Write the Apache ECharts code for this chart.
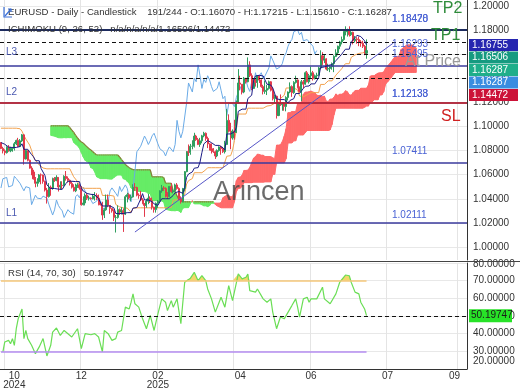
<!DOCTYPE html>
<html><head><meta charset="utf-8">
<script src="https://cdn.jsdelivr.net/npm/echarts/dist/echarts.min.js"></script>
<style>html,body{margin:0;padding:0;background:#fff}#c{width:520px;height:390px}</style>
</head><body><div id="c"></div>
<script>
// ---- data: daily candles [open, close, low, high] ----
const candles = [
[1.0865,1.0817,1.0811,1.0870],[1.0817,1.0797,1.0776,1.0831],[1.0797,1.0782,1.0761,1.0810],[1.0782,1.0828,1.0775,1.0835],
[1.0828,1.0797,1.0790,1.0845],[1.0797,1.0815,1.0786,1.0830],[1.0815,1.0817,1.0790,1.0830],[1.0817,1.0856,1.0800,1.0870],
[1.0856,1.0884,1.0845,1.0890],[1.0884,1.0833,1.0830,1.0905],[1.0833,1.0880,1.0830,1.0895],[1.0880,1.0930,1.0870,1.0937],
[1.0930,1.0730,1.0683,1.0935],[1.0730,1.0800,1.0725,1.0805],[1.0800,1.0719,1.0710,1.0800],[1.0719,1.0654,1.0650,1.0725],
[1.0654,1.0622,1.0595,1.0670],[1.0622,1.0565,1.0560,1.0640],[1.0565,1.0528,1.0495,1.0580],[1.0528,1.0540,1.0500,1.0570],
[1.0540,1.0598,1.0525,1.0605],[1.0598,1.0597,1.0520,1.0610],[1.0597,1.0544,1.0525,1.0600],[1.0544,1.0472,1.0460,1.0550],
[1.0472,1.0418,1.0360,1.0490],[1.0418,1.0495,1.0410,1.0530],[1.0495,1.0489,1.0425,1.0510],[1.0489,1.0566,1.0475,1.0575],
[1.0566,1.0553,1.0540,1.0580],[1.0553,1.0577,1.0545,1.0595],[1.0577,1.0498,1.0460,1.0580],[1.0498,1.0512,1.0475,1.0545],
[1.0512,1.0510,1.0480,1.0545],[1.0510,1.0586,1.0500,1.0595],[1.0586,1.0568,1.0550,1.0630],[1.0568,1.0553,1.0535,1.0585],
[1.0553,1.0527,1.0510,1.0560],[1.0527,1.0496,1.0485,1.0545],[1.0496,1.0466,1.0460,1.0520],[1.0466,1.0500,1.0455,1.0525],
[1.0500,1.0515,1.0490,1.0530],[1.0515,1.0490,1.0475,1.0525],[1.0490,1.0351,1.0343,1.0505],[1.0351,1.0365,1.0345,1.0420],
[1.0365,1.0430,1.0345,1.0445],[1.0430,1.0405,1.0390,1.0445],[1.0405,1.0405,1.0385,1.0425],[1.0405,1.0400,1.0395,1.0412],
[1.0400,1.0422,1.0395,1.0440],[1.0422,1.0427,1.0385,1.0455],[1.0427,1.0405,1.0390,1.0445],[1.0405,1.0355,1.0345,1.0435],
[1.0355,1.0350,1.0345,1.0365],[1.0350,1.0265,1.0225,1.0375],[1.0265,1.0308,1.0240,1.0320],[1.0308,1.0390,1.0300,1.0435],
[1.0390,1.0345,1.0330,1.0435],[1.0345,1.0320,1.0275,1.0345],[1.0320,1.0300,1.0285,1.0320],[1.0300,1.0245,1.0215,1.0312],
[1.0245,1.0245,1.0120,1.0265],[1.0245,1.0310,1.0235,1.0345],[1.0310,1.0290,1.0265,1.0320],[1.0290,1.0300,1.0270,1.0330],
[1.0300,1.0272,1.0125,1.0320],[1.0272,1.0417,1.0265,1.0430],[1.0417,1.0434,1.0370,1.0450],[1.0434,1.0408,1.0395,1.0445],
[1.0408,1.0415,1.0380,1.0435],[1.0415,1.0495,1.0410,1.0520],[1.0495,1.0493,1.0465,1.0530],[1.0493,1.0430,1.0420,1.0500],
[1.0430,1.0425,1.0400,1.0445],[1.0425,1.0390,1.0380,1.0465],[1.0390,1.0360,1.0355,1.0405],[1.0360,1.0345,1.0250,1.0365],
[1.0345,1.0380,1.0325,1.0400],[1.0380,1.0405,1.0355,1.0440],[1.0405,1.0383,1.0365,1.0420],[1.0383,1.0330,1.0310,1.0410],
[1.0330,1.0310,1.0285,1.0335],[1.0310,1.0362,1.0285,1.0370],[1.0362,1.0380,1.0325,1.0390],[1.0380,1.0465,1.0370,1.0470],
[1.0465,1.0490,1.0450,1.0515],[1.0490,1.0485,1.0465,1.0505],[1.0485,1.0445,1.0410,1.0495],[1.0445,1.0420,1.0400,1.0455],
[1.0420,1.0502,1.0410,1.0505],[1.0502,1.0460,1.0450,1.0530],[1.0460,1.0465,1.0445,1.0480],[1.0465,1.0515,1.0455,1.0525],
[1.0515,1.0485,1.0475,1.0530],[1.0485,1.0400,1.0390,1.0495],[1.0400,1.0375,1.0360,1.0420],[1.0375,1.0485,1.0370,1.0490],
[1.0485,1.0625,1.0460,1.0630],[1.0625,1.0790,1.0620,1.0795],[1.0790,1.0785,1.0755,1.0850],[1.0785,1.0835,1.0765,1.0855],
[1.0835,1.0835,1.0810,1.0885],[1.0835,1.0920,1.0825,1.0947],[1.0920,1.0890,1.0880,1.0930],[1.0890,1.0850,1.0845,1.0905],
[1.0850,1.0880,1.0830,1.0905],[1.0880,1.0922,1.0860,1.0930],[1.0922,1.0943,1.0910,1.0955],[1.0943,1.0900,1.0880,1.0950],
[1.0900,1.0855,1.0820,1.0915],[1.0855,1.0815,1.0800,1.0860],[1.0815,1.0800,1.0775,1.0860],[1.0800,1.0790,1.0780,1.0820],
[1.0790,1.0755,1.0730,1.0800],[1.0755,1.0800,1.0745,1.0810],[1.0800,1.0830,1.0790,1.0835],[1.0830,1.0815,1.0765,1.0840],
[1.0815,1.0790,1.0780,1.0830],[1.0790,1.0850,1.0775,1.0880],[1.0850,1.1050,1.0845,1.1145],[1.1050,1.0960,1.0950,1.1100],
[1.0960,1.0905,1.0811,1.1030],[1.0905,1.0960,1.0890,1.0975],[1.0960,1.0950,1.0890,1.1055],[1.0950,1.1195,1.0945,1.1215],
[1.1195,1.1360,1.1190,1.1475],[1.1360,1.1350,1.1300,1.1420],[1.1350,1.1285,1.1265,1.1350],[1.1285,1.1400,1.1275,1.1410],
[1.1400,1.1370,1.1355,1.1385],[1.1370,1.1510,1.1365,1.1572],[1.1510,1.1420,1.1410,1.1540],[1.1420,1.1315,1.1300,1.1440],
[1.1315,1.1390,1.1310,1.1400],[1.1390,1.1365,1.1330,1.1395],[1.1365,1.1420,1.1320,1.1425],[1.1420,1.1385,1.1360,1.1425],
[1.1385,1.1330,1.1320,1.1390],[1.1330,1.1290,1.1265,1.1345],[1.1290,1.1300,1.1270,1.1380],[1.1300,1.1315,1.1260,1.1345],
[1.1315,1.1370,1.1305,1.1380],[1.1370,1.1300,1.1290,1.1375],[1.1300,1.1230,1.1215,1.1325],[1.1230,1.1250,1.1195,1.1265],
[1.1250,1.1090,1.1065,1.1255],[1.1090,1.1190,1.1085,1.1195],[1.1190,1.1180,1.1170,1.1265],[1.1180,1.1190,1.1130,1.1200],
[1.1190,1.1165,1.1130,1.1200],[1.1165,1.1240,1.1125,1.1250],[1.1240,1.1285,1.1215,1.1290],[1.1285,1.1330,1.1275,1.1365],
[1.1330,1.1280,1.1245,1.1340],[1.1280,1.1365,1.1270,1.1375],[1.1365,1.1385,1.1355,1.1420],[1.1385,1.1325,1.1315,1.1390],
[1.1325,1.1290,1.1280,1.1330],[1.1290,1.1370,1.1210,1.1385],[1.1370,1.1350,1.1315,1.1385],[1.1350,1.1445,1.1345,1.1455],
[1.1445,1.1370,1.1365,1.1460],[1.1370,1.1420,1.1355,1.1435],[1.1420,1.1445,1.1395,1.1495],[1.1445,1.1395,1.1380,1.1460],
[1.1395,1.1420,1.1390,1.1430],[1.1420,1.1425,1.1395,1.1445],[1.1425,1.1485,1.1421,1.1495],[1.1485,1.1585,1.1475,1.1631],
[1.1585,1.1550,1.1510,1.1615],[1.1550,1.1560,1.1525,1.1595],[1.1560,1.1475,1.1465,1.1565],[1.1475,1.1480,1.1460,1.1520],
[1.1480,1.1495,1.1450,1.1505],[1.1495,1.1520,1.1470,1.1530],[1.1520,1.1580,1.1450,1.1590],[1.1580,1.1610,1.1575,1.1640],
[1.1610,1.1665,1.1590,1.1670],[1.1665,1.1700,1.1640,1.1710],[1.1700,1.1720,1.1680,1.1745],[1.1720,1.1785,1.1710,1.1790],
[1.1785,1.1800,1.1755,1.1830],[1.1800,1.1800,1.1745,1.1810],[1.1800,1.1760,1.1745,1.1830],[1.1760,1.1780,1.1750,1.1790],
[1.1780,1.1710,1.1680,1.1785],[1.1710,1.1725,1.1695,1.1750],[1.1725,1.1720,1.1685,1.1740],[1.1720,1.1700,1.1665,1.1745],
[1.1700,1.1690,1.1660,1.1715],[1.1690,1.1665,1.1650,1.1710],[1.1665,1.1600,1.1590,1.1675],[1.16070,1.16287,1.15610,1.17215]
];
// Ichimoku values before enough history is visible
const tenkanEarly = [1.0866,1.0860,1.0852,1.0840,1.0828,1.0825,1.0825,1.0830];
const kijunEarly = [1.0985,1.0985,1.0985,1.0985,1.0985,1.0985,1.0985,1.0985,1.0985,1.0982,1.0980,1.0960,1.0925,1.0895,1.0870,1.0845,1.0800,1.0745,1.0720,1.0700,1.0680,1.0665,1.0655,1.0650,1.0648];
const senkouBEarly = [1.1005,1.1005,1.1005,1.1005,1.1005,1.1005,1.1005,1.1005,1.1005,1.1005,
 1.0990,1.0970,1.0950,1.0925,1.0905,1.0885,1.0870,1.0862,1.0845,1.0830,1.0815,1.0804,1.0790,1.0775,1.0763,
 1.0763,1.0763,1.0763,1.0763,1.0763,1.0763,1.0763,1.0763,1.0763,1.0763,1.0763,
 1.0746,1.0725,1.0705,1.0685,1.0670,1.0658,1.0648,1.0642,1.0640,1.0640,1.0640,1.0640,1.0640,1.0640,1.0640];
// RSI (14): [bar index, value]
const rsiPoints = [[1,29.7],[2,35.3],[4,36.2],[5,34.3],[6,37.2],[7,33.4],[8,42.8],[9,48.4],[10,49.4],[11,54.0],[12,37.2],[13,41.8],[14,37.2],[16,33.4],[18,28.7],[20,32.5],[22,37.2],[24,27.4],[26,33.4],[27,40.9],[29,43.2],[31,39.0],[33,41.8],[34,42.8],[37,38.1],[40,42.8],[42,31.5],[44,40.0],[47,39.4],[49,40.0],[51,38.1],[53,29.7],[54,41.8],[56,40.0],[58,36.2],[60,37.2],[61,40.9],[63,41.8],[65,55.0],[67,54.0],[68,57.8],[69,62.5],[70,56.9],[72,55.0],[74,48.4],[76,42.8],[78,50.3],[80,41.8],[82,51.2],[84,59.7],[86,57.8],[87,53.1],[89,58.7],[90,55.0],[92,59.7],[94,45.6],[96,69.1],[99,71.4],[101,74.7],[103,70.0],[105,72.8],[107,70.0],[108,65.3],[110,59.7],[112,52.2],[114,57.8],[115,60.6],[117,55.0],[119,67.2],[121,58.7],[122,59.7],[124,73.8],[126,71.0],[128,71.9],[129,73.8],[130,64.4],[133,63.5],[134,65.3],[135,64.4],[137,59.7],[139,57.8],[141,59.7],[142,52.2],[143,53.1],[144,42.8],[146,49.4],[148,48.4],[149,49.4],[152,55.9],[154,59.7],[155,55.0],[156,49.4],[158,59.7],[160,60.6],[161,57.8],[162,59.7],[165,59.7],[168,66.3],[169,59.7],[172,56.9],[175,62.5],[177,69.1],[180,73.2],[182,72.8],[183,69.1],[185,63.5],[187,62.5],[188,57.8],[190,54.0],[191,50.2]];
const rsiLast = 50.19747;
// trend line anchors [bar index, price]
const trendLine1 = [[70, 1.0124], [205, 1.1691]];
// horizontal levels
const levelsSolid = [1.18420, 1.15495, 1.12138, 1.07411, 1.02111];
const levelTP2 = 1.18420;
const levelsDashed = [1.16755, 1.16506, 1.16293, 1.16287, 1.14472];
const levelSL = 1.11850;
const levelLabels = [['1.18420',1.18420],['1.18478',1.18420],['1.16293',1.16293],['1.15495',1.15495],['1.12138',1.12138],['1.12133',1.12138],['1.07411',1.07411],['1.02111',1.02111]];
const lineNames = [['L3',1.15495],['L2',1.12138],['L1',1.02111]];
const badges = [[1.16755,'#2626b0'],[1.16506,'#169a80'],[1.16287,'#1fae8a'],[1.16287,'#3a8de0'],[1.14472,'#cc1238']];
const rsiTopLabel = 80, rsiBottomLabel = 20;
// x axis
const NSLOT = 244;
const xLabelIdx = [7, 42, 82, 125, 162, 202, 237];
const xLabelText = ['10\n2024', '12', '02\n2025', '04', '06', '07', '09'];
const xGridIdx = [2, 42, 82, 122, 162, 202, 239];

// ---- indicator computation ----
const K = candles.length;
const highs = candles.map(c => c[3]), lows = candles.map(c => c[2]), closes = candles.map(c => c[1]);
function mid(i, p) { let h = -Infinity, l = Infinity; for (let j = i - p + 1; j <= i; j++) { h = Math.max(h, highs[j]); l = Math.min(l, lows[j]); } return (h + l) / 2; }
const tenkan = [], kijun = [];
for (let i = 0; i < K; i++) { tenkan.push(i < 8 ? tenkanEarly[i] : mid(i, 9)); kijun.push(i < 25 ? kijunEarly[i] : mid(i, 26)); }
const senkouA = new Array(NSLOT).fill(null), senkouB = new Array(NSLOT).fill(null);
for (let i = 0; i < K; i++) { senkouA[i + 26] = (tenkan[i] + kijun[i]) / 2; if (i >= 51) senkouB[i + 26] = mid(i, 52); }
senkouBEarly.forEach((v, k) => { senkouB[26 + k] = v; });
const chikou = [];
for (let i = 0; i + 26 < K; i++) chikou.push(closes[i + 26]);
const cloudSeg = [];
for (let i = 0; i < NSLOT - 1; i++) {
  if (senkouA[i] != null && senkouB[i] != null && senkouA[i + 1] != null && senkouB[i + 1] != null)
    cloudSeg.push([i, senkouA[i], senkouB[i], senkouA[i + 1], senkouB[i + 1]]);
}
const rsiBase = rsiPoints.map(p => [p[0], 70]);
const rsiOver = rsiPoints.map(p => [p[0], Math.max(p[1] - 70, 0)]);

const categories = Array.from({length: NSLOT}, (_, i) => String(i));
const FONT = '"Liberation Sans", Arial, sans-serif';
const chart = echarts.init(document.getElementById('c'), null, {renderer: 'canvas', width: 520, height: 390});

const MAIN_TOP = 5.8, MAIN_H = 241.2;
const gridCommon = {left: 0, right: 53, containLabel: false, outerBoundsMode: 'none'};
const xBase = {type: 'category', data: categories, boundaryGap: true, axisTick: {show: false}};

chart.setOption({
  animation: false,
  backgroundColor: '#ffffff',
  grid: [
    Object.assign({top: 0, height: 260}, gridCommon),
    Object.assign({top: MAIN_TOP, height: MAIN_H}, gridCommon),
    Object.assign({top: 263, height: 106}, gridCommon)
  ],
  xAxis: [
    Object.assign({gridIndex: 0, axisLine: {show: false}, axisLabel: {show: false},
      splitLine: {show: true, interval: (i) => xGridIdx.includes(i), lineStyle: {color: '#e4e4e4', width: 1}}}, xBase),
    Object.assign({gridIndex: 1, axisLine: {show: false}, axisLabel: {show: false}, splitLine: {show: false}}, xBase),
    Object.assign({gridIndex: 2, axisLine: {show: true, lineStyle: {color: '#333', width: 1}},
      axisLabel: {show: true, interval: (i) => xLabelIdx.includes(i),
        formatter: (v, i) => { const k = xLabelIdx.indexOf(Number(v)); return k >= 0 ? xLabelText[k] : ''; },
        color: '#333', fontSize: 10, fontFamily: FONT, lineHeight: 9, margin: 3},
      splitLine: {show: true, interval: (i) => xGridIdx.includes(i), lineStyle: {color: '#e4e4e4', width: 1}}}, xBase)
  ],
  yAxis: [
    {gridIndex: 0, type: 'value', min: 0, max: 1, position: 'right', axisLine: {show: true, lineStyle: {color: '#333'}},
      axisLabel: {show: false}, axisTick: {show: false}, splitLine: {show: false}},
    {gridIndex: 1, type: 'value', min: 1.00, max: 1.20, interval: 0.02, position: 'right', scale: true,
      axisLine: {show: false}, axisTick: {show: false},
      axisLabel: {formatter: v => v.toFixed(5), color: '#333', fontSize: 10, fontFamily: FONT, margin: 6, showMaxLabel: true, hideOverlap: false},
      splitLine: {show: true, lineStyle: {color: '#e8e8e8'}}},
    {gridIndex: 2, type: 'value', min: 20, max: 80, interval: 10, position: 'right',
      axisLine: {show: true, lineStyle: {color: '#333'}}, axisTick: {show: false},
      axisLabel: {formatter: v => (v === rsiTopLabel || v === rsiBottomLabel) ? '' : v.toFixed(5), color: '#333', fontSize: 10, fontFamily: FONT, margin: 6},
      splitLine: {show: true, lineStyle: {color: '#e8e8e8'}}}
  ],
  series: [
    { // Kumo cloud
      type: 'custom', xAxisIndex: 1, yAxisIndex: 1, data: cloudSeg, encode: {x: 0, y: [1, 2]}, silent: true, clip: true, z: 1,
      renderItem: function (params, api) {
        const i = api.value(0), a0 = api.value(1), b0 = api.value(2), a1 = api.value(3), b1 = api.value(4);
        const pa0 = api.coord([i, a0]), pb0 = api.coord([i, b0]), pa1 = api.coord([i + 1, a1]), pb1 = api.coord([i + 1, b1]);
        const GREEN = '#66ec66', RED = '#ff6a6a', OLIVE = '#8b7a38';
        const d0 = a0 - b0, d1 = a1 - b1;
        const children = [];
        if (d0 * d1 < 0) {
          const t = d0 / (d0 - d1);
          const pc = [pa0[0] + t * (pa1[0] - pa0[0]), pa0[1] + t * (pa1[1] - pa0[1])];
          children.push({type: 'polygon', shape: {points: [pa0, pc, pb0]}, style: {fill: d0 > 0 ? RED : GREEN, stroke: d0 > 0 ? RED : GREEN, lineWidth: 1}});
          children.push({type: 'polygon', shape: {points: [pc, pa1, pb1]}, style: {fill: d1 > 0 ? RED : GREEN, stroke: d1 > 0 ? RED : GREEN, lineWidth: 1}});
        } else {
          const red = (d0 + d1) > 0;
          children.push({type: 'polygon', shape: {points: [pa0, pa1, pb1, pb0]}, style: {fill: red ? RED : GREEN, stroke: red ? RED : GREEN, lineWidth: 1}});
          if (!red) children.push({type: 'line', shape: {x1: pb0[0], y1: pb0[1], x2: pb1[0], y2: pb1[1]}, style: {stroke: OLIVE, lineWidth: 1.2}});
        }
        return {type: 'group', children: children};
      }
    },
    {type: 'line', name: 'chikou', xAxisIndex: 1, yAxisIndex: 1, data: chikou, showSymbol: false, symbol: 'none', z: 3,
      lineStyle: {color: '#6aaae6', width: 1}},
    {type: 'line', name: 'kijun', xAxisIndex: 1, yAxisIndex: 1, data: kijun, showSymbol: false, symbol: 'none', z: 3,
      lineStyle: {color: '#f2a24e', width: 1}},
    {type: 'candlestick', xAxisIndex: 1, yAxisIndex: 1, data: candles, barWidth: 1.6, z: 4,
      itemStyle: {color: '#2f9e5f', color0: '#e23a4c', borderColor: '#2f9e5f', borderColor0: '#e23a4c', borderWidth: 1}},
    {type: 'line', name: 'tenkan', xAxisIndex: 1, yAxisIndex: 1, data: tenkan, showSymbol: false, symbol: 'none', z: 5,
      lineStyle: {color: '#1c1c86', width: 1},
      markLine: {silent: true, symbol: ['none', 'none'], label: {show: false}, animation: false,
        data: [].concat(
          levelsSolid.map(v => ({yAxis: v, lineStyle: {color: v === levelTP2 ? '#1d2b5e' : '#3a3a9c', width: v === levelTP2 ? 2 : 1.5, type: 'solid'}})),
          levelsDashed.map(v => ({yAxis: v, lineStyle: {color: '#111', width: 1, type: [4, 3]}})),
          [{yAxis: levelSL, lineStyle: {color: '#cc2222', width: 1.5, type: 'solid'}}]
        )}},
    {type: 'line', name: 'trend', xAxisIndex: 1, yAxisIndex: 1, data: trendLine1, showSymbol: false, symbol: 'none', z: 6,
      lineStyle: {color: '#5656c8', width: 1}},
    // RSI panel
    {type: 'line', xAxisIndex: 2, yAxisIndex: 2, data: rsiBase, stack: 'ob', showSymbol: false, symbol: 'none', lineStyle: {opacity: 0}, z: 2, silent: true},
    {type: 'line', xAxisIndex: 2, yAxisIndex: 2, data: rsiOver, stack: 'ob', showSymbol: false, symbol: 'none', lineStyle: {opacity: 0},
      areaStyle: {color: '#f2d35a', opacity: 0.9}, z: 2, silent: true},
    {type: 'line', xAxisIndex: 2, yAxisIndex: 2, data: rsiPoints, showSymbol: false, symbol: 'none', z: 4,
      lineStyle: {color: '#6ade55', width: 1.2},
      markLine: {silent: true, symbol: ['none', 'none'], label: {show: false}, animation: false,
        data: [
          {yAxis: 50, lineStyle: {color: '#111', width: 1, type: [4, 3]}},
          [{coord: [0, 70], lineStyle: {color: '#f5c77a', width: 1.5, type: 'solid'}}, {coord: [K - 1, 70]}],
          [{coord: [0, 30], lineStyle: {color: '#b48cf0', width: 1.5, type: 'solid'}}, {coord: [K - 1, 30]}]
        ]}}
  ]
});

// ---- annotations ----
const py = v => chart.convertToPixel({yAxisIndex: 1}, v);
const ry = v => chart.convertToPixel({yAxisIndex: 2}, v);
const g = [];
function txt(text, x, y, size, color, z) {
  g.push({type: 'text', z: z || 120, style: {text: text, x: x, y: y, font: size + 'px ' + FONT, fill: color,
    textVerticalAlign: 'middle', verticalAlign: 'middle', textAlign: 'left', align: 'left'}});
}
// RSI axis end labels (top one partly under the panel separator, bottom one lifted inside the panel)
txt(rsiTopLabel.toFixed(5), 473, ry(rsiTopLabel) + 1, 10, '#333', 80);
txt(rsiBottomLabel.toFixed(5), 473, 361, 10, '#333', 80);
// separator between panels
g.push({type: 'line', z: 90, shape: {x1: 0, y1: 261.5, x2: 520, y2: 261.5}, style: {stroke: '#444', lineWidth: 1}});
// titles
txt('EURUSD - Daily - Candlestick    191/244 - O:1.16070 - H:1.17215 - L:1.15610 - C:1.16287', 8, 12.5, 9.6, '#333');
txt('ICHIMOKU (9, 26, 52)   n/a/n/a/n/a/1.16506/1.14472', 8, 29.5, 9.6, '#333');
txt('RSI (14, 70, 30)   ' + rsiLast.toFixed(5), 8, 273.5, 9.6, '#333');
// small icon
g.push({type: 'polyline', z: 121, shape: {points: [[4, 7], [4, 17], [12, 17]]}, style: {stroke: '#3a6fd8', lineWidth: 1.2, fill: null}});
g.push({type: 'polyline', z: 121, shape: {points: [[5, 16], [11, 9]]}, style: {stroke: '#3a6fd8', lineWidth: 1.2, fill: null}});
g.push({type: 'polyline', z: 121, shape: {points: [[8, 9], [11, 9], [11, 12]]}, style: {stroke: '#3a6fd8', lineWidth: 1.2, fill: null}});
// watermark
txt('Arincen', 213, 193, 27, 'rgba(70,70,70,0.8)');
// level tags
txt('TP2', 433, 9, 16, '#2e8b3a');
txt('TP1', 431, 36, 16, '#2e8b3a');
txt('At Price', 405, 62, 16, '#9a9a9a');
txt('SL', 441, 117, 16, '#d02020');
levelLabels.forEach(([t, v]) => txt(t, 392, py(v) - 6, 10, '#4a62d4'));
lineNames.forEach(([t, v]) => txt(t, 6, py(v) - 8, 10, '#4a58b0'));
// price badges on the right axis
let prev = -Infinity;
badges.forEach(([v, bg]) => {
  let y = Math.max(py(v), prev + 12.5); prev = y;
  g.push({type: 'rect', z: 110, shape: {x: 469, y: y - 6, width: 49, height: 12}, style: {fill: bg}});
  txt(v.toFixed(5), 472, y, 10, '#ffffff', 130);
});
// RSI badge
const rb = ry(rsiLast);
g.push({type: 'rect', z: 110, shape: {x: 469, y: rb - 6.5, width: 43, height: 13}, style: {fill: '#27e227'}});
txt(rsiLast.toFixed(5), 471, rb, 10, '#1a1a1a', 130);
chart.setOption({graphic: {elements: g}});
</script>
</body></html>
